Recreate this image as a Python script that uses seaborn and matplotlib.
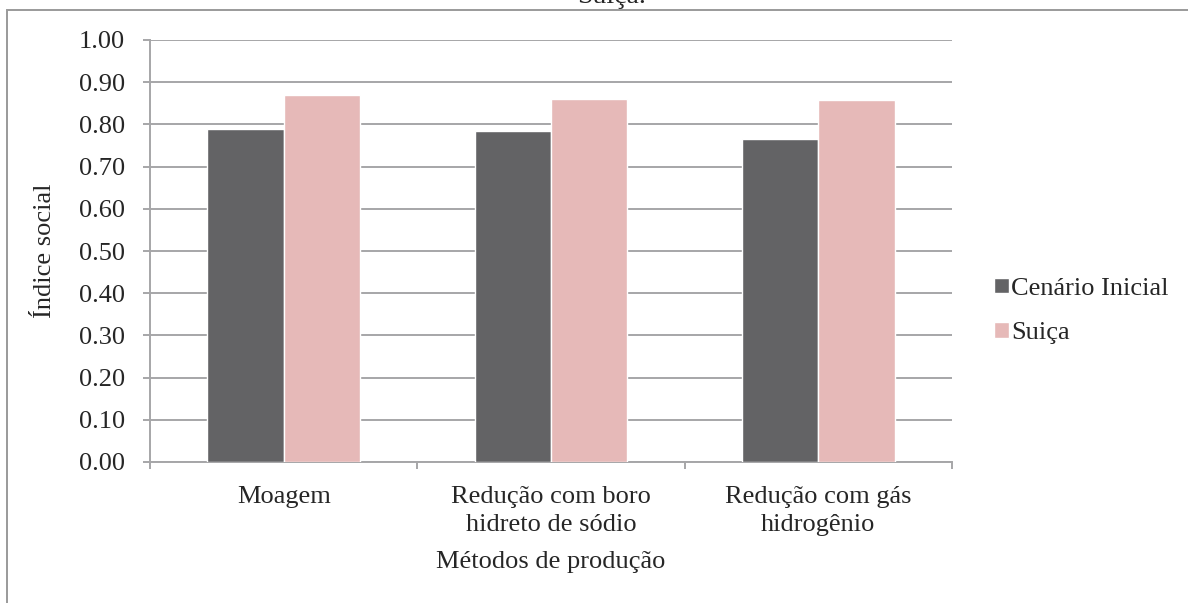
import numpy as np
import pandas as pd
import matplotlib
matplotlib.use("Agg")
import matplotlib.pyplot as plt
import seaborn as sns
from matplotlib.patches import Rectangle

# data
metodos = ["Moagem", "Redução com boro\nhidreto de sódio", "Redução com gás\nhidrogênio"]
cenario_inicial = [0.790, 0.784, 0.766]
suica = [0.869, 0.860, 0.858]
series = ["Cenário Inicial", "Suiça"]
cores = ["#636365", "#E6B9B8"]

df = pd.DataFrame({
    "metodo": metodos * 2,
    "valor": cenario_inicial + suica,
    "serie": [series[0]] * 3 + [series[1]] * 3,
})

FS = 19
SERIF = ["Liberation Serif", "DejaVu Serif"]

sns.set_style("white")
plt.rcParams["font.family"] = SERIF
plt.rcParams["font.size"] = FS

W, H = 1188, 603
fig = plt.figure(figsize=(W / 100, H / 100), dpi=100)
ax = fig.add_axes([150 / W, 1 - 462 / H, (952 - 150) / W, (462 - 40) / H])

sns.barplot(data=df, x="metodo", y="valor", hue="serie", palette=cores,
            width=0.57, saturation=1, ax=ax, legend=True, zorder=3)

grid_c = "#A6A6A8"
yt = np.arange(0, 1.01, 0.1)
ax.set_ylim(0, 1.0)
ax.set_yticks(yt)
ax.set_yticklabels([f"{v:.2f}" for v in yt], fontfamily=SERIF, fontsize=FS)
ax.set_xlim(-0.5, 2.5)
ax.grid(axis="y", color=grid_c, linewidth=1.4, zorder=0)
ax.set_axisbelow(True)
for s in ["top", "right"]:
    ax.spines[s].set_visible(False)
for s in ["left", "bottom"]:
    ax.spines[s].set_color(grid_c)
    ax.spines[s].set_linewidth(1.4)

# x ticks at category boundaries, labels at centres
ax.set_xticks([-0.5, 0.5, 1.5, 2.5])
ax.set_xticklabels([])
ax.set_xticks([0, 1, 2], minor=True)
ax.set_xticklabels(metodos, minor=True, fontfamily=SERIF, fontsize=FS, linespacing=1.35)
ax.tick_params(axis="x", which="major", length=5, width=1.4, color=grid_c, direction="out", bottom=True)
ax.tick_params(axis="x", which="minor", length=0, pad=17)
ax.tick_params(axis="y", length=5, width=1.4, color=grid_c, direction="out", left=True, pad=13)

ax.set_xlabel("Métodos de produção", fontsize=FS, fontfamily=SERIF, labelpad=11)
ax.set_ylabel("Índice social", fontsize=FS, fontfamily=SERIF)
ax.yaxis.set_label_coords(-(150 - 56) / (952 - 150), 0.5, transform=ax.transAxes)

leg = ax.legend(loc="center left", bbox_to_anchor=(994 / W, 1 - 311 / H),
                bbox_transform=fig.transFigure, frameon=False, borderpad=0,
                borderaxespad=0, handlelength=0.55, handleheight=0.55,
                handletextpad=0.1, labelspacing=0.85,
                prop={"family": SERIF, "size": FS})

fig.text(612 / W, 1 - 3 / H, "Suiça.", ha="center", va="baseline",
         fontsize=20, fontfamily=SERIF)

# chart frame (only top and left visible)
fig.add_artist(Rectangle((7 / W, -0.05), 1.1, 1 - 10 / H + 0.05,
                         transform=fig.transFigure, fill=False,
                         edgecolor="#9A9A9A", linewidth=1.4))

fig.savefig("out.png", dpi=100)
